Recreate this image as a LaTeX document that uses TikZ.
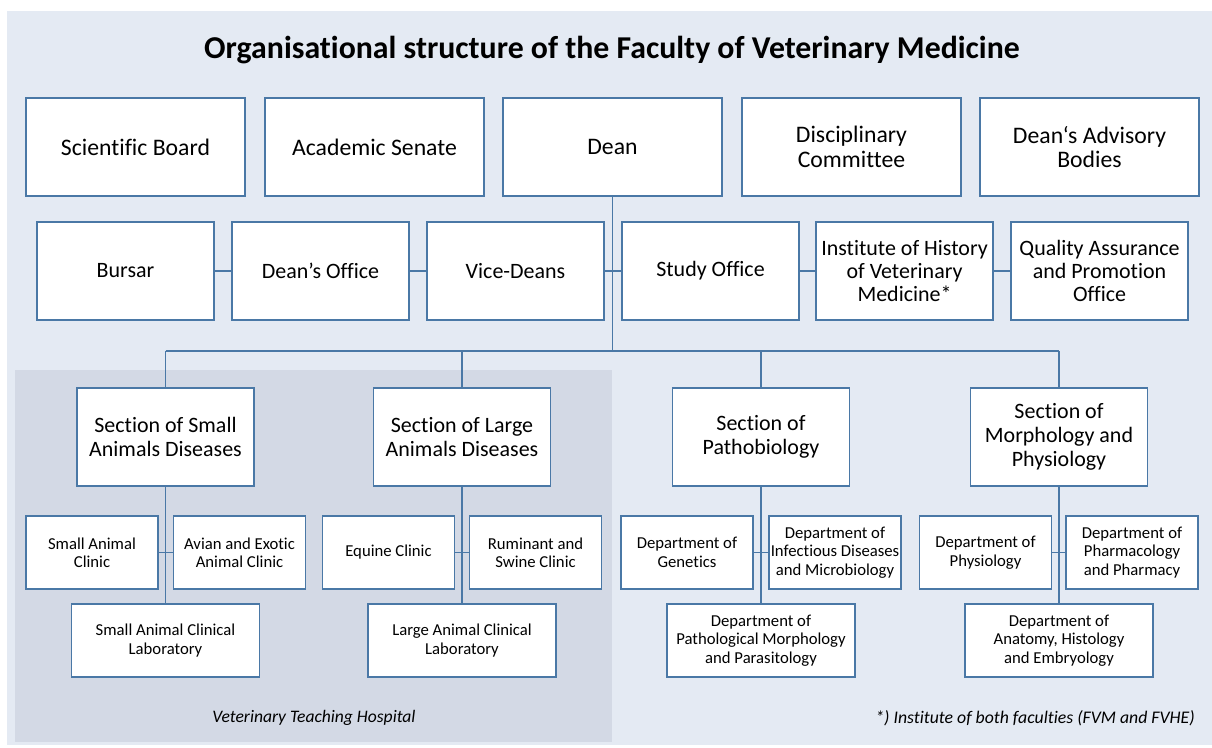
\documentclass[tikz,border=0pt]{standalone}
\usepackage{fontspec}
\setmainfont[Ligatures=NoCommon]{Carlito}
\definecolor{bgblue}{HTML}{E4EAF3}
\definecolor{hospgrey}{HTML}{D3D9E5}
\definecolor{edgeblue}{HTML}{4A78A6}
\tikzset{
  unit/.style={draw=edgeblue, line width=1pt, fill=white, align=center, inner sep=1pt},
  board/.style={unit, minimum width=4.38cm, minimum height=1.96cm, font=\fontsize{13.5}{14}\selectfont},
  office/.style={unit, minimum width=3.54cm, minimum height=1.96cm, font=\fontsize{12.5}{13}\selectfont},
  secbox/.style={unit, minimum width=3.54cm, minimum height=1.96cm, font=\fontsize{12.5}{13.5}\selectfont},
  dept/.style={unit, minimum width=2.64cm, minimum height=1.46cm, font=\fontsize{9.5}{10.5}\selectfont},
  lab/.style={unit, minimum width=3.76cm, minimum height=1.46cm, font=\fontsize{9.5}{10.5}\selectfont},
  link/.style={draw=edgeblue, line width=1pt},
}
\begin{document}
\begin{tikzpicture}[x=0.02cm, y=-0.02cm] % 1 unit = 1 pixel of the original
  \useasboundingbox (0,0) rectangle (1212,747);
  \fill[bgblue] (7,11) rectangle (1212,745);
  \fill[hospgrey] (15,370) rectangle (612,742); % teaching hospital area

  \node[font=\fontsize{18.1}{20}\selectfont\bfseries] (title) at (612,50)
    {Organisational structure of the Faculty of Veterinary Medicine};

  % governing bodies
  \node[board] (sciboard) at (135.5,147) {Scientific Board};
  \node[board] (senate) at (374.5,147) {Academic Senate};
  \node[board] (dean) at (612.5,147) {Dean};
  \node[board] (discipl) at (851.5,147) {Disciplinary\\Committee};
  \node[board] (advisory) at (1089.5,147) {Dean‘s Advisory\\Bodies};

  % offices
  \node[office] (bursar) at (125.5,271) {Bursar};
  \node[office] (deansoff) at (320.5,271) {Dean’s Office};
  \node[office] (vicedeans) at (515.5,271) {Vice-Deans};
  \node[office] (studyoff) at (710.5,271) {Study Office};
  \node[office] (history) at (904.5,271) {Institute of History\\of Veterinary\\Medicine*};
  \node[office] (quality) at (1099.5,271) {Quality Assurance\\and Promotion\\Office};

  % sections
  \node[secbox] (smallsec) at (165.5,437) {Section of Small\\Animals Diseases};
  \node[secbox] (largesec) at (462,437) {Section of Large\\Animals Diseases};
  \node[secbox] (pathosec) at (761,437) {Section of\\Pathobiology};
  \node[secbox] (morphsec) at (1059,437) {Section of\\Morphology and\\Physiology};

  % clinics and departments
  \node[dept] (smallclin) at (92,552.5) {Small Animal\\Clinic};
  \node[dept] (avian) at (239.5,552.5) {Avian and Exotic\\Animal Clinic};
  \node[dept] (equine) at (388.5,552.5) {Equine Clinic};
  \node[dept] (ruminant) at (535.5,552.5) {Ruminant and\\Swine Clinic};
  \node[dept] (genetics) at (687,552.5) {Department of\\Genetics};
  \node[dept] (infect) at (835,552.5) {Department of\\Infectious Diseases\\and Microbiology};
  \node[dept] (physio) at (985.5,552.5) {Department of\\Physiology};
  \node[dept] (pharma) at (1132,552.5) {Department of\\Pharmacology\\and Pharmacy};

  \node[lab] (smalllab) at (165.5,640.5) {Small Animal Clinical\\Laboratory};
  \node[lab] (largelab) at (462,640.5) {Large Animal Clinical\\Laboratory};
  \node[lab] (pathmorph) at (761,640.5) {Department of\\Pathological Morphology\\and Parasitology};
  \node[lab] (anatomy) at (1059,640.5) {Department of\\Anatomy, Histology\\and Embryology};

  \node[font=\fontsize{10}{12}\selectfont\itshape] (hospital) at (314,718) {Veterinary Teaching Hospital};
  \node[font=\fontsize{10.1}{12}\selectfont\itshape, anchor=east] (note) at (1201,718)
    {*) Institute of both faculties (FVM and FVHE)};

  % connectors
  \coordinate (hub) at (612.5,351);
  \draw[link] (dean.south) -- (hub);
  \draw[link] (bursar) -- (deansoff) -- (vicedeans) -- (studyoff) -- (history) -- (quality);
  \draw[link] (smallsec.north |- hub) -- (morphsec.north |- hub);
  \foreach \s/\l/\r/\b in {smallsec/smallclin/avian/smalllab, largesec/equine/ruminant/largelab,
                           pathosec/genetics/infect/pathmorph, morphsec/physio/pharma/anatomy} {
    \draw[link] (\s.north) -- (\s.north |- hub);
    \draw[link] (\s.south) -- (\b.north);
    \draw[link] (\l) -- (\r);
  }
\end{tikzpicture}
\end{document}
